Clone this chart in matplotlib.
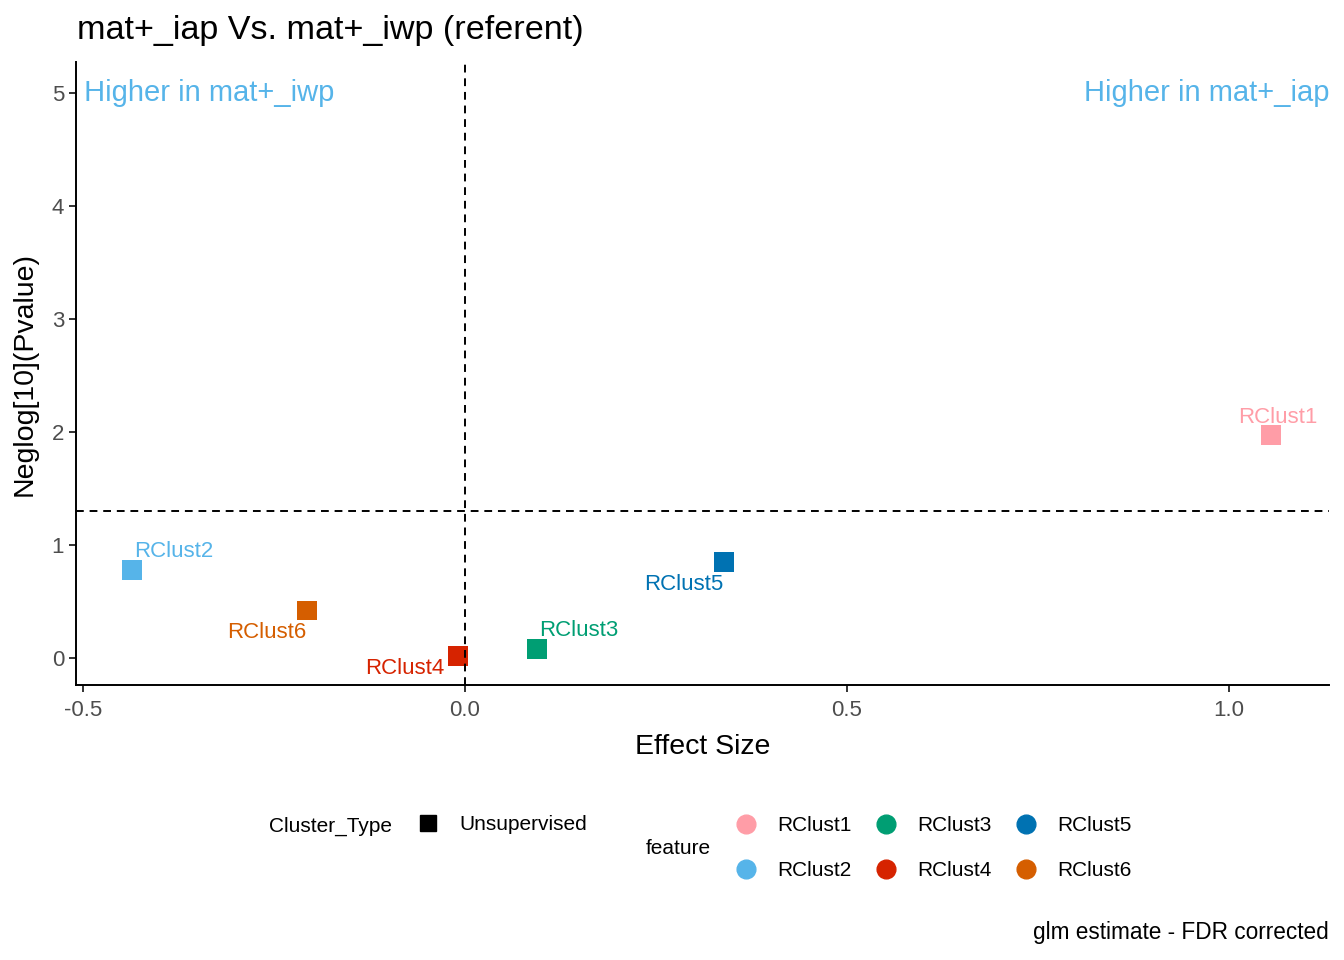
import matplotlib
matplotlib.use("Agg")
from matplotlib import pyplot as plt
from matplotlib.lines import Line2D

plt.rcParams['font.family'] = ['Liberation Sans', 'DejaVu Sans']

# data
features = ['RClust1', 'RClust2', 'RClust3', 'RClust4', 'RClust5', 'RClust6']
effect_size = [1.055, -0.436, 0.094, -0.009, 0.339, -0.207]
neglog_p = [1.97, 0.78, 0.08, 0.02, 0.85, 0.42]
colors = ['#FF9DA7', '#56B4E9', '#009E73', '#D62300', '#0072B2', '#D55E00']
# where ggrepel pushed each label (offset points from the point)
label_offsets = [(5, 13), (30, 13), (30, 13), (-38, -9), (-29, -16), (-29, -16)]

fdr_cut = 1.301  # -log10(0.05)

fig = plt.figure(figsize=(13.44, 9.6), dpi=100)
ax = fig.add_axes([76 / 1344, 275 / 960, (1329 - 76) / 1344, (685 - 62) / 960])

ax.scatter(effect_size, neglog_p, marker='s', s=200, c=colors, linewidths=0, zorder=2)
ax.axhline(fdr_cut, color='black', ls=(0, (4, 3)), lw=1.4, zorder=3)
ax.axvline(0, color='black', ls=(0, (4, 3)), lw=1.4, zorder=3)

for name, x, y, c, off in zip(features, effect_size, neglog_p, colors, label_offsets):
    ax.annotate(name, (x, y), xytext=off, textcoords='offset points',
                ha='center', va='center', color=c, fontsize=16)

ax.set_xlim(-0.509, 1.131)
ax.set_ylim(-0.239, 5.27)
ax.set_xticks([-0.5, 0.0, 0.5, 1.0])
ax.set_xticklabels(['-0.5', '0.0', '0.5', '1.0'])
ax.set_yticks([0, 1, 2, 3, 4, 5])

ax.text(-0.509, 5, ' Higher in mat+_iwp', ha='left', va='center', color='#56B4E9', fontsize=21)
ax.text(1.131, 5, 'Higher in mat+_iap', ha='right', va='center', color='#56B4E9', fontsize=21)

for side in ['top', 'right']:
    ax.spines[side].set_visible(False)
for side in ['left', 'bottom']:
    ax.spines[side].set_linewidth(1.4)
ax.tick_params(axis='both', labelsize=16, labelcolor='#4D4D4D', color='#333333',
               length=5, width=1.4)
ax.tick_params(axis='x', pad=6)

ax.set_xlabel('Effect Size', fontsize=20.5, labelpad=9)
ax.set_ylabel('Neglog[10](Pvalue)', fontsize=20.5, labelpad=10)

fig.text(77 / 1344, 1 - 30 / 960, 'mat+_iap Vs. mat+_iwp (referent)', fontsize=24.6,
         ha='left', va='center')

# legends
fig.text(269 / 1344, 1 - 826 / 960, 'Cluster_Type', fontsize=15, ha='left', va='center')
type_handle = [Line2D([], [], marker='s', color='black', ls='', markersize=12)]
fig.legend(type_handle, ['Unsupervised'], loc='center left', frameon=False,
           bbox_to_anchor=(418 / 1344, 1 - 825 / 960), borderpad=0, borderaxespad=0,
           handlelength=1, handletextpad=1.0, fontsize=15)

fig.text(646 / 1344, 1 - 849 / 960, 'feature', fontsize=15, ha='left', va='center')
feat_handles = [Line2D([], [], marker='o', color=c, ls='', markersize=13.5) for c in colors]
fig.legend(feat_handles, features, loc='center left', frameon=False, ncol=3,
           bbox_to_anchor=(736 / 1344, 1 - 848 / 960), borderpad=0, borderaxespad=0,
           handlelength=1, handletextpad=1.0, columnspacing=1.15, labelspacing=1.25,
           fontsize=15)

fig.text(1329 / 1344, 1 - 933 / 960, 'glm estimate - FDR corrected', fontsize=16.3,
         ha='right', va='center')

fig.savefig('out.png', dpi=100)
